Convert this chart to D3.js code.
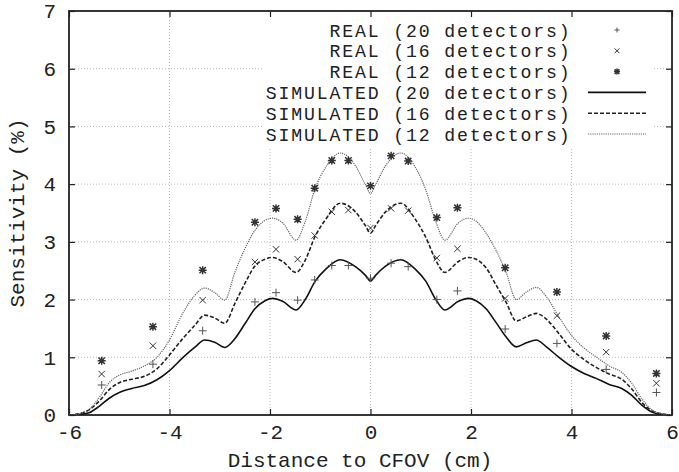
<!DOCTYPE html>
<html><head><meta charset="utf-8">
<script src="https://cdn.jsdelivr.net/npm/d3@7"></script>
<style>body{margin:0;background:#fff}svg{display:block}text{font-family:"Liberation Mono","DejaVu Sans Mono",monospace;fill:#222}</style>
</head><body><svg id="c" width="679" height="472"></svg>
<script>
// ---- data ----
const simX = [-6,-5.8,-5.6,-5.4,-5.2,-5.0,-4.75,-4.5,-4.25,-4.0,-3.75,-3.5,-3.3,-3.1,-2.9,-2.7,-2.5,-2.3,-2.1,-1.95,-1.75,-1.48,-1.3,-1.1,-0.9,-0.6,-0.3,-0.1,0,0.1,0.3,0.6,0.9,1.1,1.3,1.48,1.75,1.95,2.1,2.3,2.5,2.7,2.9,3.1,3.3,3.5,3.75,4.0,4.25,4.5,4.75,5.0,5.2,5.4,5.6,5.8,6];
const sim20 = [0,0.01,0.04,0.15,0.29,0.39,0.46,0.51,0.61,0.77,0.98,1.17,1.30,1.26,1.17,1.32,1.58,1.84,1.98,2.02,1.97,1.82,2.00,2.32,2.52,2.69,2.57,2.42,2.32,2.42,2.58,2.69,2.52,2.32,2.00,1.82,1.97,2.02,1.98,1.84,1.60,1.35,1.18,1.25,1.30,1.18,1.00,0.84,0.72,0.63,0.53,0.46,0.34,0.17,0.05,0.01,0];
const sim16 = [0,0.02,0.09,0.24,0.44,0.56,0.62,0.67,0.80,1.04,1.31,1.55,1.73,1.68,1.59,1.93,2.28,2.58,2.70,2.73,2.66,2.47,2.68,3.10,3.38,3.67,3.52,3.28,3.15,3.28,3.52,3.67,3.38,3.08,2.68,2.47,2.66,2.73,2.70,2.55,2.25,1.95,1.63,1.70,1.76,1.66,1.41,1.14,0.96,0.82,0.71,0.62,0.45,0.22,0.07,0.02,0];
const sim12 = [0,0.02,0.10,0.30,0.56,0.69,0.76,0.85,1.00,1.30,1.74,2.07,2.20,2.12,1.99,2.47,2.88,3.20,3.37,3.41,3.33,3.03,3.35,3.93,4.28,4.54,4.32,3.99,3.84,3.99,4.32,4.54,4.28,3.90,3.35,3.03,3.33,3.41,3.36,3.15,2.85,2.47,2.00,2.13,2.21,2.05,1.70,1.38,1.16,1.00,0.85,0.74,0.55,0.28,0.09,0.02,0];
const realX = [-5.35,-4.33,-3.34,-2.30,-1.88,-1.45,-1.11,-0.77,-0.44,0,0.41,0.75,1.32,1.73,2.68,3.71,4.69,5.69];
const real20 = [0.52,0.88,1.46,1.96,2.12,1.99,2.34,2.59,2.59,2.37,2.63,2.57,2.00,2.15,1.49,1.24,0.79,0.39];
const real16 = [0.71,1.20,1.99,2.65,2.87,2.70,3.11,3.52,3.55,3.24,3.58,3.54,2.72,2.88,2.02,1.72,1.09,0.55];
const real12 = [0.94,1.53,2.51,3.34,3.58,3.39,3.93,4.41,4.41,3.97,4.49,4.40,3.42,3.59,2.55,2.13,1.37,0.72];
const xTicks = [-6,-4,-2,0,2,4,6];
const yTicks = [0,1,2,3,4,5,6,7];
const legendLabels = ["REAL (20 detectors)","REAL (16 detectors)","REAL (12 detectors)","SIMULATED (20 detectors)","SIMULATED (16 detectors)","SIMULATED (12 detectors)"];
const xTitle = "Distance to CFOV (cm)";
const yTitle = "Sensitivity (%)";

// ---- layout ----
const L=69,R=672,T=11,B=415;
const svg=d3.select("#c");
const x=d3.scaleLinear().domain([-6,6]).range([L,R]);
const y=d3.scaleLinear().domain([0,7]).range([B,T]);

// grid
const g=svg.append("g");
g.selectAll(".gx").data(xTicks.slice(1,-1)).enter().append("line")
 .attr("x1",d=>x(d)).attr("x2",d=>x(d)).attr("y1",T).attr("y2",B)
 .attr("stroke","#aaa").attr("stroke-width",0.8).attr("stroke-dasharray","1,2");
g.selectAll(".gy").data(yTicks.slice(1,-1)).enter().append("line")
 .attr("y1",d=>y(d)).attr("y2",d=>y(d)).attr("x1",L).attr("x2",R)
 .attr("stroke","#aaa").attr("stroke-width",0.8).attr("stroke-dasharray","1,2");

// legend background
svg.append("rect").attr("x",262).attr("y",T+1).attr("width",390).attr("height",136).attr("fill","#fff");

// axes (ticks inward, mirrored)
const tl=6;
svg.append("g").attr("transform",`translate(0,${B})`).call(d3.axisBottom(x).tickValues(xTicks).tickSizeInner(-tl).tickSizeOuter(0).tickFormat(d3.format("d")))
 .call(a=>{a.select(".domain").remove();a.selectAll("text").attr("font-size",21).attr("font-family","Liberation Mono").attr("fill","#222").attr("y",24).attr("dy",0).text(d=>String(d).replace("−","-"));});
svg.append("g").attr("transform",`translate(0,${T})`).call(d3.axisTop(x).tickValues(xTicks).tickSizeInner(-tl).tickSizeOuter(0).tickFormat(""))
 .call(a=>a.select(".domain").remove());
svg.append("g").attr("transform",`translate(${L},0)`).call(d3.axisLeft(y).tickValues(yTicks).tickSizeInner(-tl).tickSizeOuter(0).tickPadding(13).tickFormat(d3.format("d")))
 .call(a=>{a.select(".domain").remove();a.selectAll("text").attr("font-size",21).attr("font-family","Liberation Mono").attr("fill","#222");});
svg.append("g").attr("transform",`translate(${R},0)`).call(d3.axisRight(y).tickValues(yTicks).tickSizeInner(-tl).tickSizeOuter(0).tickFormat(""))
 .call(a=>a.select(".domain").remove());
svg.selectAll(".tick line").attr("stroke","#222").attr("stroke-width",1.2);

// frame
svg.append("rect").attr("x",L).attr("y",T).attr("width",R-L).attr("height",B-T).attr("fill","none").attr("stroke","#222").attr("stroke-width",1.8);

// titles
svg.append("text").attr("x",360).attr("y",467).attr("text-anchor","middle").attr("font-size",21).text(xTitle);
svg.append("text").attr("transform",`translate(24,${(T+B)/2}) rotate(-90)`).attr("text-anchor","middle").attr("font-size",21).text(yTitle);

// clip
svg.append("clipPath").attr("id","clip").append("rect").attr("x",L).attr("y",T).attr("width",R-L).attr("height",B-T);

// simulated curves
const line=d3.line().x(d=>x(d[0])).y(d=>y(d[1])).curve(d3.curveMonotoneX);
const styles=[
 {data:sim20,stroke:"#111",w:1.6,dash:null},
 {data:sim16,stroke:"#222",w:1.6,dash:"4,2"},
 {data:sim12,stroke:"#666",w:1.2,dash:"1.2,1"}
];
styles.forEach(s=>{
 svg.append("path").attr("clip-path","url(#clip)").attr("d",line(simX.map((v,i)=>[v,s.data[i]])))
  .attr("fill","none").attr("stroke",s.stroke).attr("stroke-width",s.w).attr("stroke-dasharray",s.dash);
});

// markers
function marker(sel,type,cx,cy,s){
 let d="";
 if(type!=="x") d+=`M${cx-s},${cy}H${cx+s}M${cx},${cy-s}V${cy+s}`;
 if(type!=="+"){const k=s*0.8;d+=`M${cx-k},${cy-k}L${cx+k},${cy+k}M${cx-k},${cy+k}L${cx+k},${cy-k}`;}
 sel.append("path").attr("d",d).attr("stroke",type==="+"?"#555":"#333").attr("stroke-width",type==="*"?1.5:1).attr("fill","none");
}
const realSets=[[real20,"+"],[real16,"x"],[real12,"*"]];
realSets.forEach(([arr,t])=>{
 const gg=svg.append("g");
 realX.forEach((v,i)=>marker(gg,t,x(v),y(arr[i]),4));
});

// legend
const lg=svg.append("g");
legendLabels.forEach((lab,i)=>{
 const by=36.5+i*20.8;
 lg.append("text").attr("x",571.6).attr("y",by).attr("text-anchor","end").attr("font-size",18.2)
   .attr("letter-spacing",1.83).text(lab);
 const cy=by-6.5;
 if(i<3) marker(lg,realSets[i][1],617,cy,i===0?2.5:3);
 else { const s=styles[i-3]; lg.append("line").attr("x1",588).attr("x2",646).attr("y1",cy).attr("y2",cy)
   .attr("stroke",s.stroke).attr("stroke-width",s.w).attr("stroke-dasharray",s.dash); }
});
</script></body></html>
